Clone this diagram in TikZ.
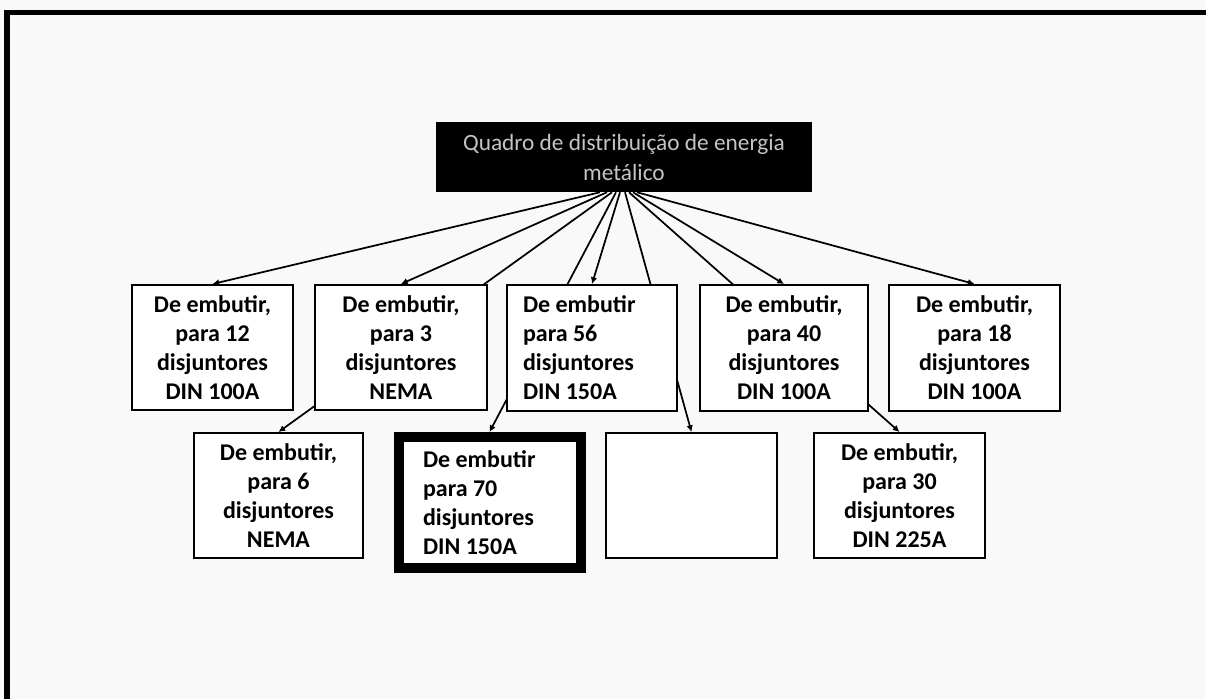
\documentclass[tikz,border=0pt]{standalone}
\usepackage{fontspec}
\setmainfont{Carlito}
\usetikzlibrary{arrows.meta,calc}
\pgfdeclarelayer{back}
\pgfdeclarelayer{links}
\pgfsetlayers{back,links,main}
\definecolor{pagebg}{HTML}{F9F9F9}
\definecolor{toptext}{HTML}{C4C4C4}
\begin{document}
\begin{tikzpicture}[x=0.75pt,y=-0.75pt,
  box/.style={draw=black, line width=1.5pt, fill=white, inner sep=0pt,
    minimum height=93.75pt, align=center,
    font=\bfseries\fontsize{18}{21.75}\selectfont},
  headbox/.style={fill=black, inner sep=0pt, text=toptext, align=center,
    font=\fontsize{17.5}{22.5}\selectfont},
  link/.style={line width=1.3pt, -{Latex[length=5pt,width=5pt]}}]
\useasboundingbox (0,0) rectangle (1206,699);
\begin{pgfonlayer}{back}
  \fill[pagebg] (0,0) rectangle (1206,699);
  \begin{scope}
    \clip (0,0) rectangle (1206,699);
    \draw[line width=4.2pt] (7,720) -- (7,12.5) -- (1230,12.5);
  \end{scope}
\end{pgfonlayer}

\node[headbox, minimum width=282pt, minimum height=52.5pt] (top) at (624,157)
  {Quadro de distribuição de energia\\metálico};

\node[box, minimum width=120.75pt] (A) at (212.5,347.5) {De embutir,\\para 12\\disjuntores\\DIN 100A};
\node[box, minimum width=129pt] (B) at (401,347.5) {De embutir,\\para 3\\disjuntores\\NEMA};
\node[box, minimum width=127.5pt, minimum height=94.5pt, text width=103.5pt, align=flush left] (C) at (592,348) {De embutir\\para 56\\disjuntores\\DIN 150A};
\node[box, minimum width=126pt, minimum height=94.5pt] (D) at (784,348) {De embutir,\\para 40\\disjuntores\\DIN 100A};
\node[box, minimum width=128.25pt, minimum height=94.5pt] (E) at (974.5,348) {De embutir,\\para 18\\disjuntores\\DIN 100A};

\node[box, minimum width=126.75pt] (F) at (278.5,495.5) {De embutir,\\para 6\\disjuntores\\NEMA};
\node[box, line width=7.5pt, minimum width=136.5pt, minimum height=98.6pt, text width=99.75pt, align=flush left] (G) at (489.5,502.75) {De embutir\\para 70\\disjuntores\\DIN 150A};
\node[box, minimum width=128.25pt] (H) at (691.5,495.5) {};
\node[box, minimum width=128.25pt] (I) at (899.5,495.5) {De embutir,\\para 30\\disjuntores\\DIN 225A};

\begin{pgfonlayer}{links}
  \draw[link] ($(top.south)+(-24,0)$) -- (A.north);
  \draw[link] ($(top.south)+(-17,0)$) -- (B.north);
  \draw[link] ($(top.south)+(-12,0)$) -- (F.north);
  \draw[link] ($(top.south)+(-8,0)$) -- (G.north);
  \draw[link] ($(top.south)+(-4,0)$) -- (C.north);
  \draw[link] ($(top.south)+(1,0)$) -- (H.north);
  \draw[link] ($(top.south)+(5,0)$) -- (I.north);
  \draw[link] ($(top.south)+(9,0)$) -- (D.north);
  \draw[link] ($(top.south)+(13,0)$) -- (E.north);
\end{pgfonlayer}
\end{tikzpicture}
\end{document}
